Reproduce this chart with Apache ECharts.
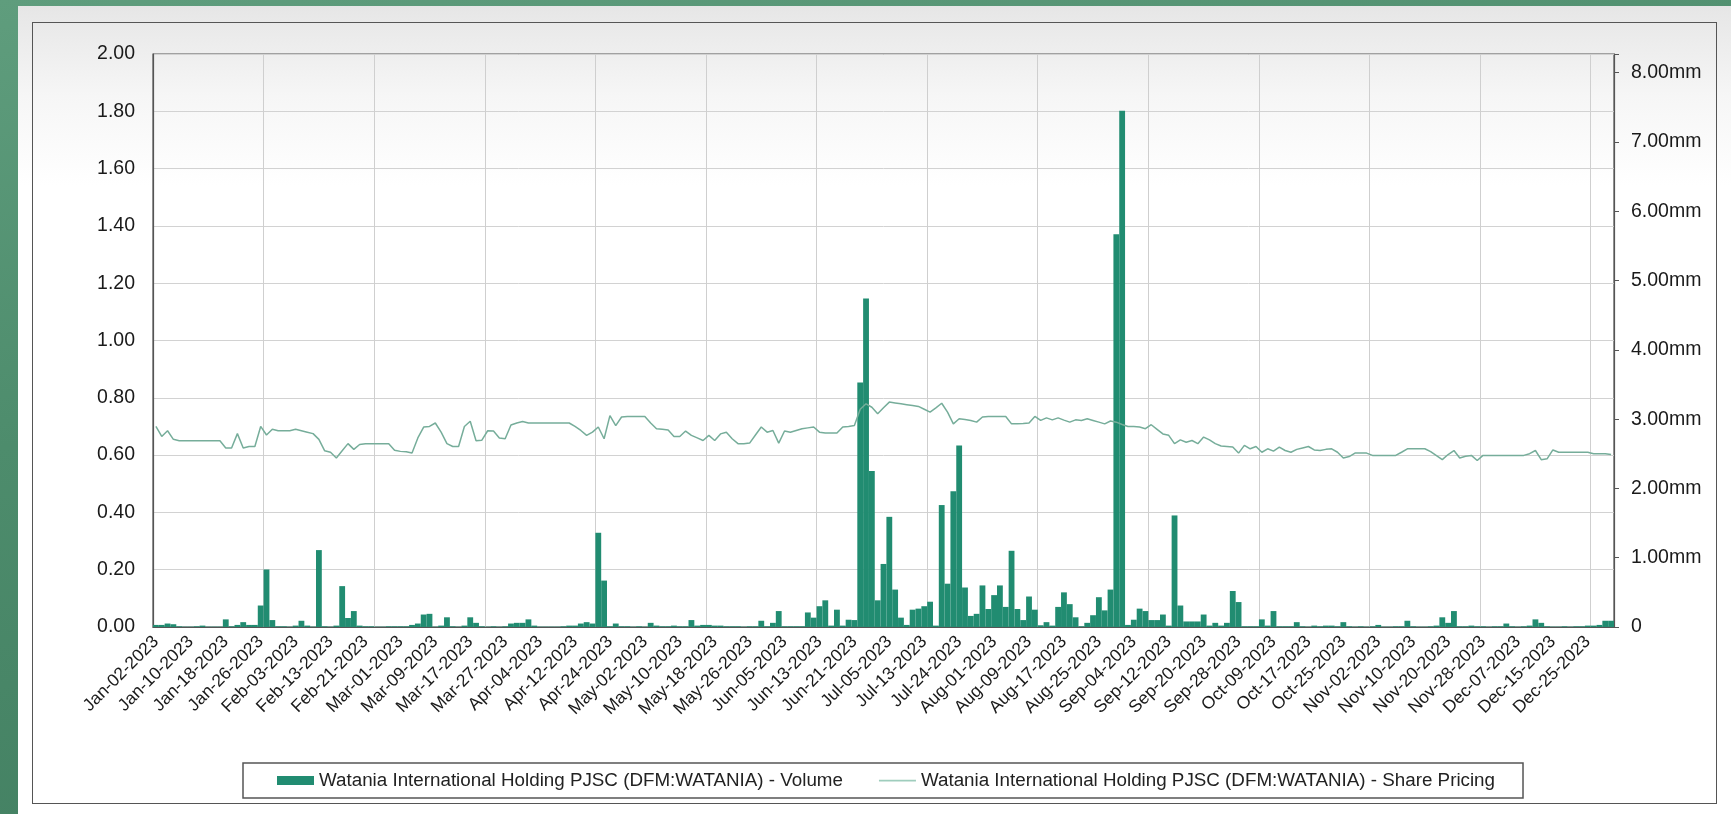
<!DOCTYPE html>
<html>
<head>
<meta charset="utf-8">
<script src="https://cdn.jsdelivr.net/npm/echarts@6/dist/echarts.min.js"></script>
<style>
  html, body { margin: 0; padding: 0; width: 1731px; height: 814px; overflow: hidden; }
  body { background: linear-gradient(170deg, #5f9d7d 0%, #4d8c6c 40%, #3f7b5e 100%); position: relative; }
  #panel { position: absolute; left: 18px; top: 6px; right: 0; bottom: 0;
           background: linear-gradient(to bottom, #e6e6e6 0px, #f6f6f6 90px, #ffffff 180px); }
  #frame { position: absolute; left: 32px; top: 22px; width: 1685px; height: 782px;
           border: 1.5px solid #555; box-sizing: border-box; }
  #chart { position: absolute; left: 0; top: 0; width: 1731px; height: 814px; }
</style>
</head>
<body>
<div id="panel"></div>
<div id="frame"></div>
<div id="chart"></div>
<script>
// Trading days of 2023 (DFM), per month
const monthNames = ['Jan','Feb','Mar','Apr','May','Jun','Jul','Aug','Sep','Oct','Nov','Dec'];
const tradingDays = [
  [2,3,4,5,6,9,10,11,12,13,16,17,18,19,20,23,24,25,26,27,30,31],
  [1,2,3,6,7,8,9,10,13,14,15,16,17,20,21,22,23,24,27,28],
  [1,2,3,6,7,8,9,10,13,14,15,16,17,20,21,22,23,24,27,28,29,30,31],
  [3,4,5,6,7,10,11,12,13,14,17,18,19,24,25,26,27,28],
  [1,2,3,4,5,8,9,10,11,12,15,16,17,18,19,22,23,24,25,26,29,30,31],
  [1,2,5,6,7,8,9,12,13,14,15,16,19,20,21,22,23,26],
  [3,4,5,6,7,10,11,12,13,14,17,18,19,20,24,25,26,27,28,31],
  [1,2,3,4,7,8,9,10,11,14,15,16,17,18,21,22,23,24,25,28,29,30,31],
  [1,4,5,6,7,8,11,12,13,14,15,18,19,20,21,22,25,26,27,28],
  [2,3,4,5,6,9,10,11,12,13,16,17,18,19,20,23,24,25,26,27,30,31],
  [1,2,3,6,7,8,9,10,13,14,15,16,17,20,21,22,23,24,27,28,29,30],
  [1,5,6,7,8,11,12,13,14,15,18,19,20,21,22,25,26,27,28,29]
];
const dates = [];
tradingDays.forEach((days, m) => days.forEach(d => dates.push(monthNames[m] + '-' + String(d).padStart(2, '0') + '-2023')));

// Share price (left axis)
const price = [
  0.700,0.665,0.685,0.655,0.650,0.650,0.650,0.650,0.650,0.650,
  0.650,0.650,0.625,0.625,0.675,0.625,0.630,0.630,0.700,0.670,
  0.690,0.685,0.685,0.685,0.690,0.685,0.680,0.675,0.655,0.615,
  0.610,0.590,0.615,0.640,0.620,0.637,0.640,0.640,0.640,0.640,
  0.640,0.617,0.613,0.612,0.607,0.660,0.698,0.700,0.712,0.680,
  0.640,0.630,0.630,0.700,0.718,0.650,0.652,0.685,0.684,0.660,
  0.657,0.705,0.712,0.717,0.712,0.712,0.712,0.712,0.712,0.712,
  0.712,0.712,0.700,0.686,0.669,0.680,0.698,0.657,0.738,0.703,
  0.733,0.735,0.735,0.735,0.735,0.712,0.692,0.690,0.688,0.665,
  0.665,0.684,0.669,0.660,0.651,0.669,0.651,0.674,0.680,0.657,
  0.640,0.640,0.642,0.670,0.698,0.680,0.686,0.642,0.684,0.680,
  0.686,0.692,0.695,0.698,0.680,0.677,0.677,0.677,0.698,0.700,
  0.703,0.760,0.779,0.767,0.744,0.765,0.785,0.782,0.779,0.776,
  0.773,0.770,0.760,0.750,0.765,0.781,0.750,0.709,0.727,0.724,
  0.721,0.715,0.733,0.735,0.735,0.735,0.735,0.709,0.709,0.710,
  0.712,0.735,0.721,0.730,0.723,0.730,0.722,0.715,0.723,0.721,
  0.727,0.721,0.715,0.709,0.719,0.715,0.707,0.700,0.700,0.698,
  0.692,0.706,0.690,0.674,0.669,0.640,0.653,0.645,0.651,0.640,
  0.663,0.653,0.640,0.632,0.630,0.628,0.607,0.634,0.622,0.630,
  0.610,0.622,0.614,0.628,0.616,0.610,0.620,0.625,0.630,0.618,
  0.616,0.620,0.622,0.610,0.590,0.595,0.607,0.607,0.607,0.599,
  0.599,0.599,0.599,0.599,0.610,0.622,0.622,0.622,0.622,0.612,
  0.598,0.584,0.602,0.616,0.590,0.596,0.599,0.581,0.599,0.599,
  0.599,0.599,0.599,0.599,0.599,0.599,0.605,0.616,0.584,0.587,
  0.618,0.610,0.610,0.610,0.610,0.610,0.610,0.605,0.605,0.605,
  0.602
];

// Volume in millions (right axis)
const volume = [
  0.03,0.03,0.05,0.04,0.01,0.005,0.005,0.01,0.02,0.005,
  0.005,0.005,0.11,0.01,0.03,0.07,0.03,0.03,0.31,0.83,
  0.10,0.01,0.01,0.005,0.02,0.09,0.02,0.005,1.11,0.01,
  0.005,0.02,0.59,0.13,0.23,0.02,0.01,0.01,0.005,0.005,
  0.01,0.01,0.01,0.01,0.03,0.05,0.18,0.19,0.005,0.02,
  0.14,0.01,0.005,0.02,0.14,0.06,0.01,0.005,0.01,0.005,
  0.01,0.05,0.06,0.06,0.11,0.02,0.005,0.005,0.005,0.005,
  0.01,0.02,0.02,0.05,0.07,0.05,1.36,0.67,0.01,0.05,
  0.01,0.01,0.005,0.01,0.005,0.06,0.02,0.01,0.01,0.02,
  0.01,0.01,0.10,0.02,0.03,0.03,0.02,0.02,0.01,0.01,
  0.01,0.005,0.01,0.01,0.09,0.01,0.06,0.23,0.01,0.01,
  0.01,0.01,0.21,0.135,0.30,0.385,0.02,0.25,0.02,0.105,
  0.10,3.53,4.74,2.25,0.385,0.91,1.59,0.54,0.135,0.03,
  0.25,0.265,0.30,0.365,0.02,1.76,0.625,1.96,2.62,0.57,
  0.16,0.19,0.60,0.26,0.46,0.60,0.29,1.10,0.26,0.10,
  0.44,0.25,0.025,0.07,0.02,0.29,0.50,0.33,0.14,0.01,
  0.06,0.17,0.43,0.24,0.54,5.67,7.45,0.03,0.105,0.265,
  0.23,0.10,0.10,0.18,0.02,1.61,0.31,0.08,0.08,0.08,
  0.18,0.02,0.06,0.02,0.06,0.52,0.36,0.01,0.01,0.01,
  0.11,0.02,0.23,0.01,0.01,0.01,0.07,0.01,0.005,0.02,
  0.01,0.02,0.02,0.01,0.07,0.01,0.005,0.01,0.005,0.01,
  0.03,0.005,0.005,0.01,0.01,0.09,0.01,0.005,0.005,0.01,
  0.02,0.14,0.06,0.23,0.01,0.01,0.02,0.01,0.01,0.005,
  0.01,0.01,0.05,0.01,0.005,0.01,0.02,0.11,0.06,0.01,
  0.005,0.005,0.01,0.005,0.01,0.01,0.02,0.02,0.03,0.09,
  0.09
];

const seriesNames = [
  'Watania International Holding PJSC (DFM:WATANIA) - Volume',
  'Watania International Holding PJSC (DFM:WATANIA) - Share Pricing'
];

const FONT = "'Liberation Sans', Arial, Helvetica, sans-serif";
const chart = echarts.init(document.getElementById('chart'), null, { renderer: 'canvas' });
chart.setOption({
  backgroundColor: 'transparent',
  animation: false,
  textStyle: { fontFamily: FONT },
  grid: {
    left: 153, right: 117, top: 54, height: 573,
    show: true, borderColor: '#555', borderWidth: 1.2, backgroundColor: 'transparent'
  },
  legend: {
    left: 243, top: 763,
    padding: [8, 28, 8, 34],
    itemGap: 36,
    itemWidth: 37, itemHeight: 9,
    borderColor: '#555', borderWidth: 1.5,
    backgroundColor: '#fff',
    textStyle: { fontFamily: FONT, fontSize: 18.8, color: '#222' },
    data: [
      { name: seriesNames[0], icon: 'rect', itemStyle: { color: '#218c71' } },
      { name: seriesNames[1],
        icon: 'path://M0,0 M37,9 M0,3.8 L37,3.8 L37,5.4 L0,5.4 Z',
        itemStyle: { color: '#9fcdbd', borderWidth: 0 }, lineStyle: { width: 0 } }
    ]
  },
  xAxis: {
    type: 'category',
    data: dates,
    boundaryGap: true,
    axisLine: { show: true, lineStyle: { color: '#555', width: 1.2 } },
    axisTick: { show: false },
    axisLabel: {
      interval: 5, rotate: 45, margin: 12,
      fontSize: 17.5, color: '#1a1a1a', fontFamily: FONT
    },
    splitLine: {
      show: true,
      interval: (idx) => idx > 0 && idx % 19 === 0,
      lineStyle: { color: '#cfcfcf', width: 1 }
    }
  },
  yAxis: [
    {
      type: 'value', position: 'left', min: 0, max: 2, interval: 0.2,
      axisLine: { show: true, lineStyle: { color: '#555', width: 1.2 } },
      axisTick: { show: false },
      axisLabel: { margin: 18, fontSize: 19.5, color: '#1a1a1a', fontFamily: FONT,
                   formatter: v => v.toFixed(2) },
      splitLine: { show: true, lineStyle: { color: '#d2d2d2', width: 1 } }
    },
    {
      type: 'value', position: 'right', min: 0, max: 8.27, interval: 1,
      axisLine: { show: true, lineStyle: { color: '#555', width: 1.2 } },
      axisTick: { show: true, length: 5, lineStyle: { color: '#555' } },
      axisLabel: { margin: 17, fontSize: 19.5, color: '#1a1a1a', fontFamily: FONT,
                   formatter: v => (Math.abs(v - Math.round(v)) > 1e-6 ? '' : (v === 0 ? '0' : v.toFixed(2) + 'mm')) },
      splitLine: { show: false }
    }
  ],
  series: [
    {
      name: seriesNames[0], type: 'bar', yAxisIndex: 1,
      data: volume, barCategoryGap: '0%',
      itemStyle: { color: '#218c71' }, z: 2
    },
    {
      name: seriesNames[1], type: 'line', yAxisIndex: 0,
      data: price, symbol: 'none', showSymbol: false,
      lineStyle: { color: '#76ad9a', width: 1.5 },
      itemStyle: { color: '#9fcdbd' }, z: 3
    }
  ]
});
</script>
</body>
</html>
